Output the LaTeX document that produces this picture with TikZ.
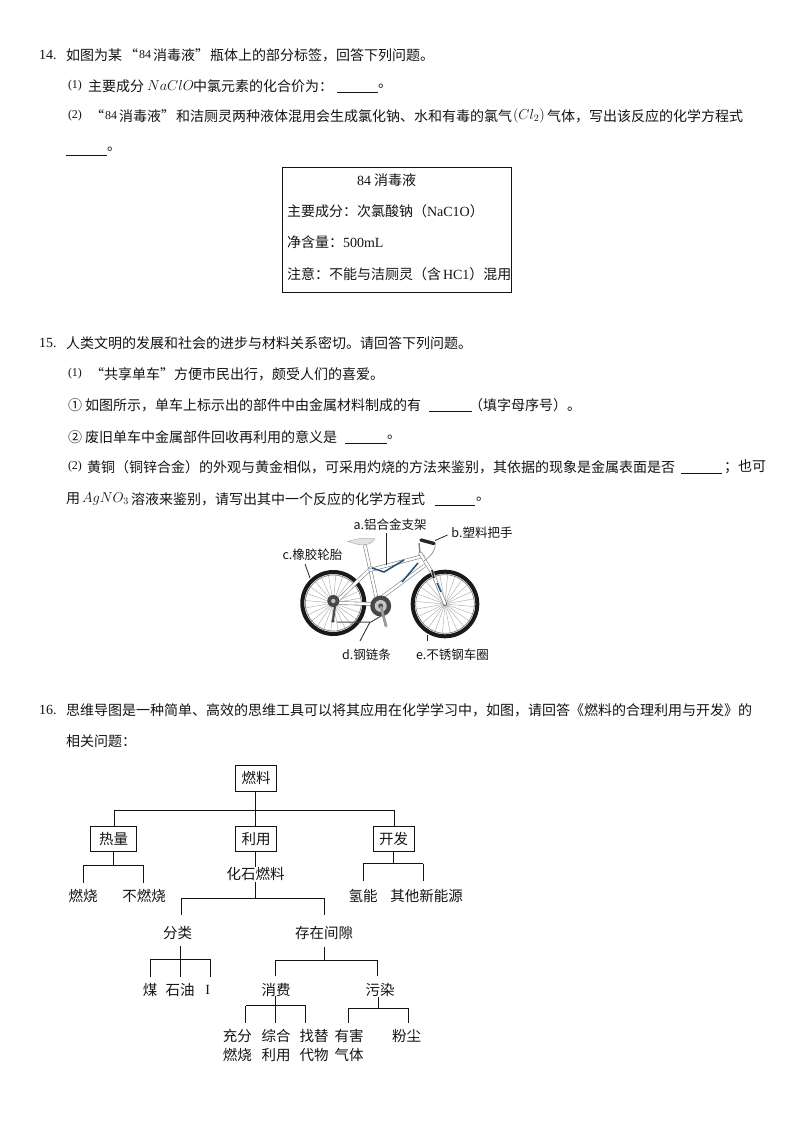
\documentclass[tikz,border=0pt]{standalone}
\usepackage{fontspec}
\setmainfont{Liberation Serif}
\newfontfamily\cjk{Noto Sans CJK SC}
\definecolor{ink}{gray}{0.08}
\definecolor{tube}{gray}{0.5}
\definecolor{bikeblue}{HTML}{1F4E79}
\newcommand{\Tx}[4]{\node[txt] (#1) at (#2,#3) {#4};}
\newcommand{\Cn}[4]{\node[lab] (#1) at (#2,#3) {#4};}
\newcommand{\Blank}[3]{\draw[blankline] (#1,#3) -- (#2,#3);}
\newcommand{\Wheel}[3]{%
  \foreach \a in {0,15,...,345}{\draw[spoke] (#1,#2) -- ++(\a+5:#3-3);}
  \draw[line width=4pt,black!90] (#1,#2) circle (#3-2);
  \draw[line width=.7pt,gray] (#1,#2) circle (#3-5);
  \fill[black!70] (#1,#2) circle (2);
}
\tikzset{
  x=1pt,y=-1pt,
  txt/.style={anchor=west,inner sep=0pt,outer sep=0pt,text=ink,font=\fontsize{14}{14}\selectfont\cjk},
  lab/.style={anchor=center,inner sep=0pt,outer sep=0pt,text=ink,font=\fontsize{14.5}{14.5}\selectfont\cjk},
  bikelab/.style={anchor=center,inner sep=0pt,outer sep=0pt,text=ink,font=\fontsize{12.5}{12.5}\selectfont\cjk},
  nodebox/.style={draw=ink,line width=.9pt,inner sep=0pt,outer sep=0pt,minimum height=24.5pt,text=ink,font=\fontsize{14.5}{14.5}\selectfont\cjk},
  tree/.style={draw=ink,line width=.8pt},
  blankline/.style={draw=ink,line width=.8pt},
  spoke/.style={draw=gray!70,line width=.4pt},
  leader/.style={draw=black!85,line width=.8pt},
  frametube/.style={draw=tube,line width=3.6pt,line cap=round},
  frameface/.style={draw=white,line width=2.4pt,line cap=round},
}
\newcommand{\Tube}[2]{\draw[frametube] #1 -- #2; \draw[frameface] #1 -- #2;}
\begin{document}
\begin{tikzpicture}
\useasboundingbox (0,0) rectangle (794,1123);
\fill[white] (0,0) rectangle (794,1123);

% ---------- Question 14
\Tx{qa}{39}{55}{{\rmfamily 14.}}
\Tx{qb}{66}{55}{如图为某}
\Tx{qc}{124}{55}{“}
\Tx{qd}{139}{55}{{\rmfamily\fontsize{12}{12}\selectfont 84}}
\Tx{qe}{153}{55}{消毒液”}
\Tx{qf}{210}{55}{瓶体上的部分标签，回答下列问题。}
\Tx{qg}{68}{86}{{\rmfamily\fontsize{12}{12}\selectfont (1)}}
\Tx{qh}{88}{86}{主要成分}
\Tx{qi}{147}{86}{\fontsize{14}{14}\selectfont $NaClO$}
\Tx{qj}{193}{86}{中氯元素的化合价为：}
\Blank{337}{378}{92.5}
\Tx{qk}{378}{86}{。}
\Tx{ql}{68}{116}{{\rmfamily\fontsize{12}{12}\selectfont (2)}}
\Tx{qm}{90}{116}{“}
\Tx{qn}{105}{116}{{\rmfamily\fontsize{12}{12}\selectfont 84}}
\Tx{qo}{119}{116}{消毒液”}
\Tx{qp}{176}{116}{和洁厕灵两种液体混用会生成氯化钠、水和有毒的氯气}
\Tx{qq}{513}{116}{\fontsize{14}{14}\selectfont $(Cl_2)$}
\Tx{qr}{547}{116}{气体，写出该反应的化学方程式}
\Blank{66}{107}{155}
\Tx{qs}{107}{149}{。}

% label box
\draw[draw=ink,line width=.9pt] (282.5,167.5) rectangle (511.5,292.5);
\Tx{ba}{357}{180}{{\rmfamily 84} 消毒液}
\Tx{bb}{287}{211}{主要成分：次氯酸钠（{\rmfamily NaC1O}）}
\Tx{bc}{287}{242}{净含量：{\rmfamily 500mL}}
\Tx{bd}{287}{274}{注意：不能与洁厕灵（含\hspace{2pt}{\rmfamily HC1}）混用}

% ---------- Question 15
\Tx{ra}{39}{343}{{\rmfamily 15.}}
\Tx{rb}{66}{343}{人类文明的发展和社会的进步与材料关系密切。请回答下列问题。}
\Tx{rc}{68}{374}{{\rmfamily\fontsize{12}{12}\selectfont (1)}}
\Tx{rd}{90}{374}{“共享单车”方便市民出行，颇受人们的喜爱。}
\Tx{re}{68}{405}{①}
\Tx{rp}{85}{405}{如图所示，单车上标示出的部件中由金属材料制成的有}
\Blank{429}{472}{411.5}
\Tx{rf}{469}{405}{（填字母序号）。}
\Tx{rg}{68}{437}{②}
\Tx{rq}{85}{437}{废旧单车中金属部件回收再利用的意义是}
\Blank{345}{387}{443}
\Tx{rh}{387}{437}{。}
\Tx{ri}{68}{467}{{\rmfamily\fontsize{12}{12}\selectfont (2)}}
\Tx{rj}{87}{467}{黄铜（铜锌合金）的外观与黄金相似，可采用灼烧的方法来鉴别，其依据的现象是金属表面是否}
\Blank{681}{722}{473}
\Tx{rk}{724}{467}{；也可}
\Tx{rl}{66}{499}{用}
\Tx{rm}{82}{499}{\fontsize{14}{14}\selectfont $AgNO_3$}
\Tx{rn}{131}{499}{溶液来鉴别，请写出其中一个反应的化学方程式}
\Blank{435}{475}{505}
\Tx{ro}{476}{499}{。}

% ---------- Bicycle
\Wheel{333.3}{603}{33}
\Wheel{445}{604}{34.3}
% saddle
\fill[gray!22,draw=gray!70,line width=.4pt] (348,541.5) .. controls (358,538) and (368,537.5) .. (375,539) .. controls (372,544) and (365,546) .. (358,544.5) -- cycle;
% frame
\Tube{(365,546)}{(377,600)}
\Tube{(371,568)}{(335,603)}
\Tube{(335,603)}{(378,604)}
\Tube{(423,556)}{(370,570)}
\Tube{(424,566)}{(378,600)}
\Tube{(420,553)}{(433,574)}
\Tube{(433,574)}{(445,604)}
\draw[bikeblue,line width=1.5pt] (372,568) -- (384,572) -- (404,560);
\draw[bikeblue,line width=1.5pt] (402,582) -- (418,563);
\draw[bikeblue,line width=1.3pt] (437,583) -- (441,592);
\draw[black!80,line width=1.8pt] (432,570) -- (434,578);
% handlebar
\draw[tube,line width=1.4pt] (420,553) -- (419,543);
\draw[gray,line width=.6pt] (435,543) .. controls (436,552) and (430,556) .. (424,561);
\draw[black!85,line width=3.4pt,line cap=round] (421,540) -- (434,543.5);
% drivetrain
\fill[black!72] (380.7,606) circle (10.5);
\fill[gray!45] (380.7,606) circle (6);
\fill[black!72] (380.7,606) circle (2.5);
\draw[gray!80,line width=2.8pt,line cap=round] (381,607) -- (386,626);
\draw[black!70,line width=1pt] (337,622) -- (371,622) -- (381,616);
\fill[black!72] (333.3,601) circle (6);
\fill[gray!50] (333.3,601) circle (2.2);
\draw[black!70,line width=2.2pt] (335,606) -- (333,620);
\fill[black!70] (333,621) circle (1.8);

% bike labels
\node[bikelab] (la) at (390,525) {a.铝合金支架};
\node[bikelab] (lb) at (482,532.5) {b.塑料把手};
\node[bikelab] (lc) at (312.5,555) {c.橡胶轮胎};
\node[bikelab] (ld) at (366.5,655) {d.钢链条};
\node[bikelab] (le) at (452.5,655) {e.不锈钢车圈};
\coordinate (ea) at (386.7,565);
\coordinate (eb) at (435,540.5);
\coordinate (ec) at (310,578);
\coordinate (ed) at (370,622);
\coordinate (ee) at (427,635);
\draw[leader] (386.7,533) -- (ea);
\draw[leader] (447.5,535) -- (eb);
\draw[leader] (305,564) -- (ec);
\draw[leader] (360,641) -- (ed);
\draw[leader] (427,641) -- (ee);

% ---------- Question 16
\Tx{sa}{39}{710}{{\rmfamily 16.}}
\Tx{sb}{66}{710}{思维导图是一种简单、高效的思维工具可以将其应用在化学学习中，如图，请回答《燃料的合理利用与开发》的}
\Tx{sc}{66}{741}{相关问题：}

% tree nodes
\node[nodebox,minimum width=41pt,minimum height=26.5pt] (fuel) at (256,778.3) {燃料};
\node[nodebox,minimum width=46pt] (heat) at (113.7,838.8) {热量};
\node[nodebox,minimum width=41pt] (use) at (256,838.8) {利用};
\node[nodebox,minimum width=41pt] (dev) at (393.7,838.8) {开发};
\Cn{burn}{83}{896}{燃烧}
\Cn{noburn}{144}{896}{不燃烧}
\Cn{fossil}{255.7}{874}{化石燃料}
\Cn{hyd}{363}{896}{氢能}
\Cn{other}{426.7}{896}{其他新能源}
\Cn{cls}{177.7}{933.3}{分类}
\Cn{gap}{324}{933.3}{存在间隙}
\Cn{coal}{150}{990}{煤}
\Cn{oil}{180}{990}{石油}
\node[lab,font=\fontsize{14}{14}\selectfont\rmfamily] (one) at (207.7,990) {I};
\Cn{cons}{276}{990}{消费}
\Cn{poll}{380}{990}{污染}
\node[lab,align=center] (full) at (237.3,1045.5) {充分\\[5pt]燃烧};
\node[lab,align=center] (comp) at (276,1045.5) {综合\\[5pt]利用};
\node[lab,align=center] (subs) at (314,1045.5) {找替\\[5pt]代物};
\node[lab,align=center] (harm) at (349,1045.5) {有害\\[5pt]气体};
\Cn{dust}{406.7}{1036}{粉尘}

% tree connectors
\coordinate (j0) at (255.3,810);
\coordinate (j0a) at (114.3,810);
\coordinate (j0b) at (394.3,810);
\draw[tree] (fuel.south -| j0) -- (j0);
\draw[tree] (j0a) -- (j0b);
\draw[tree] (j0a) -- (j0a |- heat.north);
\draw[tree] (j0) -- (j0 |- use.north);
\draw[tree] (j0b) -- (j0b |- dev.north);

\coordinate (j1) at (113.3,865);
\coordinate (j1a) at (83.3,865);
\coordinate (j1b) at (143.3,865);
\draw[tree] (j1 |- heat.south) -- (j1);
\draw[tree] (j1a) -- (j1b);
\draw[tree] (j1a) -- (83.3,882.7);
\draw[tree] (j1b) -- (143.3,882.7);

\draw[tree] (255.3,851) -- (255.3,866.5);
\coordinate (j2) at (255.3,898);
\coordinate (j2a) at (181,898);
\coordinate (j2b) at (324.3,898);
\draw[tree] (255.3,881.5) -- (j2);
\draw[tree] (j2a) -- (j2b);
\draw[tree] (j2a) -- (181,915);
\draw[tree] (j2b) -- (324.3,915);

\coordinate (j3) at (393.3,863.5);
\coordinate (j3a) at (363.3,863.5);
\coordinate (j3b) at (423.3,863.5);
\draw[tree] (j3 |- dev.south) -- (j3);
\draw[tree] (j3a) -- (j3b);
\draw[tree] (j3a) -- (363.3,881);
\draw[tree] (j3b) -- (423.3,881);

\coordinate (j4) at (180.7,959.3);
\coordinate (j4a) at (150.7,959.3);
\coordinate (j4b) at (210.7,959.3);
\draw[tree] (180.7,946) -- (j4);
\draw[tree] (j4a) -- (j4b);
\draw[tree] (j4a) -- (150.7,976.7);
\draw[tree] (j4) -- (180.7,976.7);
\draw[tree] (j4b) -- (210.7,976.7);

\coordinate (j5) at (324.7,960.3);
\coordinate (j5a) at (275.7,960.3);
\coordinate (j5b) at (377.7,960.3);
\draw[tree] (324.7,946.7) -- (j5);
\draw[tree] (j5a) -- (j5b);
\draw[tree] (j5a) -- (275.7,976);
\draw[tree] (j5b) -- (377.7,976);

\coordinate (j6) at (275.7,1005.7);
\coordinate (j6a) at (245.7,1005.7);
\coordinate (j6b) at (305.7,1005.7);
\draw[tree] (275.7,996) -- (j6);
\draw[tree] (j6a) -- (j6b);
\draw[tree] (j6a) -- (245.7,1023.3);
\draw[tree] (j6) -- (275.7,1023.3);
\draw[tree] (j6b) -- (305.7,1023.3);

\coordinate (j7) at (378.3,1008.3);
\coordinate (j7a) at (348.3,1008.3);
\coordinate (j7b) at (408.3,1008.3);
\draw[tree] (378.3,997) -- (j7);
\draw[tree] (j7a) -- (j7b);
\draw[tree] (j7a) -- (348.3,1023.3);
\draw[tree] (j7b) -- (408.3,1023.3);
\end{tikzpicture}
\end{document}
